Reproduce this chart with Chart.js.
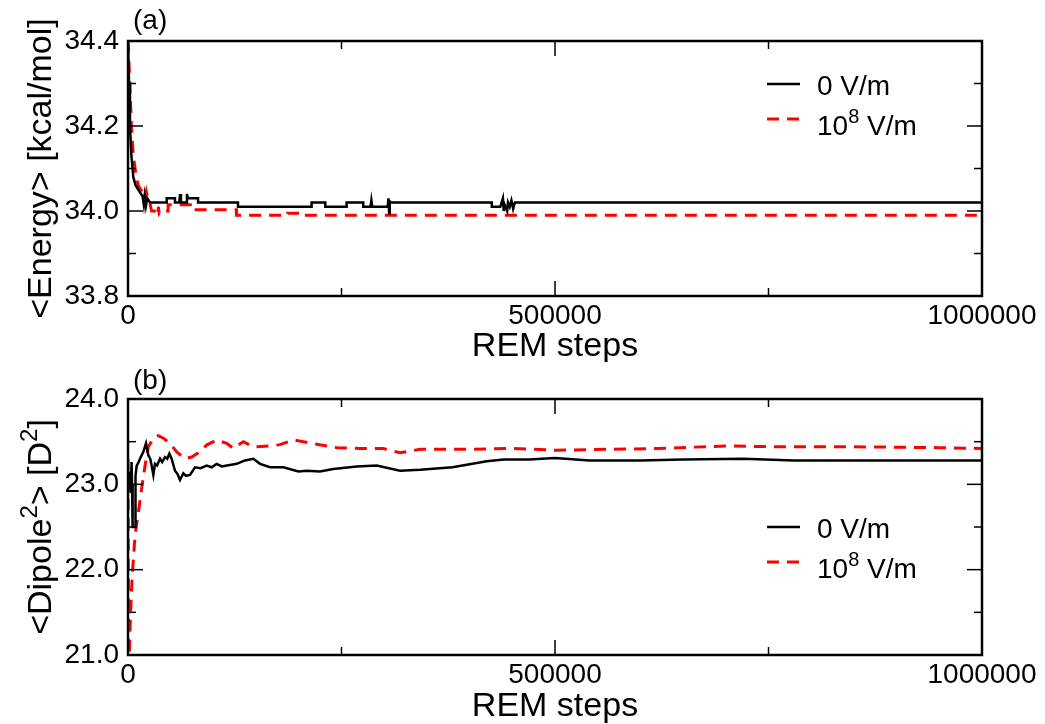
<!DOCTYPE html>
<html>
<head>
<meta charset="utf-8">
<script src="https://cdn.jsdelivr.net/npm/chart.js@4.4.1/dist/chart.umd.min.js"></script>
<style>
  body { margin: 0; background: #fff; }
  canvas { display: block; }
</style>
</head>
<body>
<canvas id="energyChart" width="1045" height="362"></canvas>
<canvas id="dipoleChart" width="1045" height="362"></canvas>
<script>
// series names and titles (^ marks a superscript digit)
const seriesNames = ['0 V/m', '10^8 V/m'];
const panelLabels = ['(a)', '(b)'];
const xTitle = 'REM steps';
const yTitles = ['<Energy> [kcal/mol]', '<Dipole^2> [D^2]'];

// panel (a): average energy
const energySteps0 = [0, 1200, 2300, 4000, 6200, 9000, 14000, 17000, 18500, 19500, 21000, 22500, 25800,
  45300, 45300, 55000, 55000, 60000, 61000, 62000, 68000, 69000, 70000, 82000, 82000, 128800, 128800,
  215000, 215000, 231000, 231000, 256000, 256000, 275500, 275500, 284000, 285000, 286000, 304000, 305000,
  305800, 306500, 307000, 426000, 426000, 436000, 439000, 440000, 441000, 444000, 445000, 447000, 449000,
  451000, 453000, 1000000];
const energy0 = [34.40, 34.30, 34.20, 34.13, 34.08, 34.06, 34.044, 34.035, 34.015, 34.035, 34.012, 34.03, 34.02,
  34.02, 34.03, 34.03, 34.02, 34.02, 34.04, 34.02, 34.02, 34.04, 34.03, 34.03, 34.02, 34.02, 34.01,
  34.01, 34.02, 34.02, 34.01, 34.01, 34.02, 34.02, 34.01, 34.01, 34.025, 34.01, 34.01, 34.03,
  33.995, 34.025, 34.02, 34.02, 34.01, 34.01, 34.03, 34.0, 34.015, 34.0, 34.02, 34.01, 34.025,
  34.005, 34.02, 34.02];
const energySteps8 = [0, 1500, 2300, 4000, 6200, 9000, 12000, 15000, 18000, 20000, 21500, 23800, 26000,
  27700, 33000, 35000, 35500, 36500, 38000, 47000, 47000, 73000, 73000, 127000, 127000, 187000, 187000,
  205000, 205000, 1000000];
const energy8 = [34.40, 34.33, 34.29, 34.20, 34.13, 34.09, 34.06, 34.05, 34.043, 34.028, 34.045, 34.024, 34.015,
  34.0, 34.0, 33.99, 34.01, 33.995, 34.0, 34.0, 34.015, 34.015, 34.003, 34.003, 33.99, 33.99, 33.995,
  33.995, 33.99, 33.99];

// panel (b): average squared dipole
const dipoleSteps0 = [500, 1500, 2300, 3000, 3500, 4200, 4700, 5400, 8200, 8800, 10150, 12000, 14050, 17950,
  21080, 23800, 26000, 27700, 29700, 31600, 34000, 37500, 40000, 43300, 46000, 48400, 51100, 55000, 58000,
  60900, 64800, 68000, 72600, 78500, 85000, 92100, 98000, 103800, 110000, 115600, 121000, 127300, 137000,
  146800, 154600, 166300, 181900, 199500, 209300, 224800, 240400, 267800, 291200, 318500, 342000, 380000,
  420000, 440000, 470000, 500000, 540000, 600000, 650000, 720000, 780000, 850000, 920000, 1000000];
const dipole0 = [22.95, 23.03, 23.15, 22.9, 22.9, 23.26, 23.0, 22.5, 22.5, 23.1, 23.22, 23.25, 23.3, 23.38,
  23.48, 23.34, 23.3, 23.22, 23.11, 23.24, 23.22, 23.3, 23.26, 23.32, 23.3, 23.36, 23.30, 23.16, 23.12,
  23.05, 23.13, 23.1, 23.11, 23.2, 23.19, 23.22, 23.2, 23.24, 23.21, 23.22, 23.23, 23.24, 23.28,
  23.30, 23.24, 23.2, 23.2, 23.15, 23.16, 23.15, 23.18, 23.21, 23.22, 23.16, 23.17, 23.2,
  23.27, 23.29, 23.29, 23.31, 23.28, 23.28, 23.29, 23.3, 23.28, 23.28, 23.28, 23.28];
const dipoleSteps8 = [0, 600, 1560, 3000, 4800, 8200, 12100, 16000, 20000, 23800, 29700, 35500, 41400, 49200,
  57000, 66700, 74500, 84300, 92100, 103800, 115600, 123400, 135100, 146800, 166300, 178000, 193600, 205400,
  221000, 244400, 271700, 299000, 318500, 342000, 400000, 450000, 500000, 560000, 620000, 700000, 760000,
  850000, 950000, 1000000];
const dipole8 = [23.3, 21.0, 21.01, 21.5, 21.9, 22.4, 22.67, 22.95, 23.22, 23.44, 23.54, 23.57, 23.54, 23.48,
  23.38, 23.30, 23.32, 23.38, 23.46, 23.52, 23.48, 23.42, 23.50, 23.44, 23.45, 23.465, 23.52, 23.50,
  23.47, 23.43, 23.42, 23.42, 23.37, 23.41, 23.41, 23.42, 23.40, 23.41, 23.42, 23.45, 23.44,
  23.44, 23.43, 23.42];

const FONT = "'Liberation Sans', Arial, sans-serif";
const TICK_SIZE = 28;
const TITLE_SIZE = 34;
Chart.defaults.font.family = FONT;
Chart.defaults.color = '#000';

function toPoints(xs, ys) {
  return xs.map((x, i) => ({ x: x, y: ys[i] }));
}

// text with "^d" superscripts; returns the width when measure is true
function drawSupText(ctx, text, x, y, size, measure) {
  const parts = text.split(/\^(\d)/);
  const x0 = x;
  parts.forEach((p, i) => {
    if (!p) return;
    const sup = i % 2 === 1;
    ctx.font = (sup ? Math.round(size * 0.7) : size) + 'px ' + FONT;
    if (!measure) ctx.fillText(p, x, sup ? y - size * 0.42 : y);
    x += ctx.measureText(p).width;
  });
  return x - x0;
}

// boxed frame with inward ticks on all four sides, plus legend, y title and panel label
const framePlugin = {
  id: 'frame',
  afterDatasetsDraw(chart, args, opts) {
    const { ctx, chartArea: a, scales: { x, y } } = chart;
    ctx.save();
    ctx.strokeStyle = '#000';
    ctx.lineWidth = 1.5;
    const seg = (x1, y1, x2, y2) => {
      ctx.beginPath(); ctx.moveTo(x1, y1); ctx.lineTo(x2, y2); ctx.stroke();
    };
    let n = Math.round((x.max - x.min) / opts.xMinor);
    for (let k = 0; k <= n; k++) {
      const len = k % opts.xEvery === 0 ? 15 : 8;
      const px = x.getPixelForValue(x.min + k * opts.xMinor);
      seg(px, a.bottom, px, a.bottom - len);
      seg(px, a.top, px, a.top + len);
    }
    n = Math.round((y.max - y.min) / opts.yMinor);
    for (let k = 0; k <= n; k++) {
      const len = k % opts.yEvery === 0 ? 15 : 8;
      const py = y.getPixelForValue(y.min + k * opts.yMinor);
      seg(a.left, py, a.left + len, py);
      seg(a.right, py, a.right - len, py);
    }
    ctx.lineWidth = 2.5;
    ctx.strokeRect(a.left, a.top, a.right - a.left, a.bottom - a.top);

    // legend
    ctx.fillStyle = '#000';
    ctx.textBaseline = 'alphabetic';
    chart.data.datasets.forEach((ds, i) => {
      const ly = opts.legendY + i * 35;
      ctx.strokeStyle = ds.borderColor;
      ctx.lineWidth = ds.borderWidth;
      ctx.setLineDash(ds.borderDash || []);
      seg(767, ly, 800, ly);
      ctx.setLineDash([]);
      drawSupText(ctx, ds.label, 817, ly + 11 + (i ? 5 : 0), TICK_SIZE);
    });

    // y axis title, rotated
    const w = drawSupText(ctx, opts.yTitle, 0, 0, TITLE_SIZE, true);
    ctx.save();
    ctx.translate(51, (a.top + a.bottom) / 2);
    ctx.rotate(-Math.PI / 2);
    drawSupText(ctx, opts.yTitle, -w / 2, 0, TITLE_SIZE);
    ctx.restore();

    // panel label
    ctx.font = TICK_SIZE + 'px ' + FONT;
    ctx.fillText(opts.panel, 133, opts.panelY);
    ctx.restore();
  }
};

function makeChart(id, cfg) {
  new Chart(document.getElementById(id), {
    type: 'line',
    data: {
      datasets: [
        { label: seriesNames[0], data: toPoints(cfg.xs0, cfg.ys0), borderColor: '#000000',
          borderWidth: 2.5, pointRadius: 0, tension: 0 },
        { label: seriesNames[1], data: toPoints(cfg.xs8, cfg.ys8), borderColor: '#ff0000',
          borderWidth: 3, borderDash: [12, 8], pointRadius: 0, tension: 0 }
      ]
    },
    options: {
      responsive: false,
      animation: false,
      devicePixelRatio: 1,
      layout: { padding: { top: cfg.top, right: 63, left: 0, bottom: 0 } },
      plugins: {
        legend: { display: false },
        tooltip: { enabled: false },
        frame: { xMinor: 250000, xEvery: 2, yMinor: cfg.yMinor, yEvery: 2, yTitle: cfg.yTitle,
                 legendY: cfg.legendY, panel: cfg.panel, panelY: cfg.panelY }
      },
      scales: {
        x: {
          type: 'linear', min: 0, max: 1000000,
          afterFit: s => { s.height = cfg.xHeight; },
          grid: { display: false, drawTicks: false },
          border: { display: false },
          ticks: { stepSize: 500000, padding: 3, maxRotation: 0, font: { size: TICK_SIZE },
                   callback: v => String(v) },
          title: { display: true, text: xTitle, font: { size: TITLE_SIZE, lineHeight: 1 },
                   padding: { top: 0, bottom: cfg.xTitlePad } }
        },
        y: {
          min: cfg.yMin, max: cfg.yMax,
          afterFit: s => { s.width = 128; },
          grid: { display: false, drawTicks: false },
          border: { display: false },
          ticks: { stepSize: cfg.yStep, padding: 9, font: { size: TICK_SIZE },
                   callback: v => v.toFixed(1) }
        }
      }
    },
    plugins: [framePlugin]
  });
}

makeChart('energyChart', {
  xs0: energySteps0, ys0: energy0, xs8: energySteps8, ys8: energy8,
  top: 41, xHeight: 66, xTitlePad: -2, yMin: 33.8, yMax: 34.4, yStep: 0.2, yMinor: 0.1,
  yTitle: yTitles[0], legendY: 84, panel: panelLabels[0], panelY: 29
});

makeChart('dipoleChart', {
  xs0: dipoleSteps0, ys0: dipole0, xs8: dipoleSteps8, ys8: dipole8,
  top: 37, xHeight: 69, xTitlePad: 0, yMin: 21, yMax: 24, yStep: 1, yMinor: 0.5,
  yTitle: yTitles[1], legendY: 165, panel: panelLabels[1], panelY: 27
});
</script>
</body>
</html>
